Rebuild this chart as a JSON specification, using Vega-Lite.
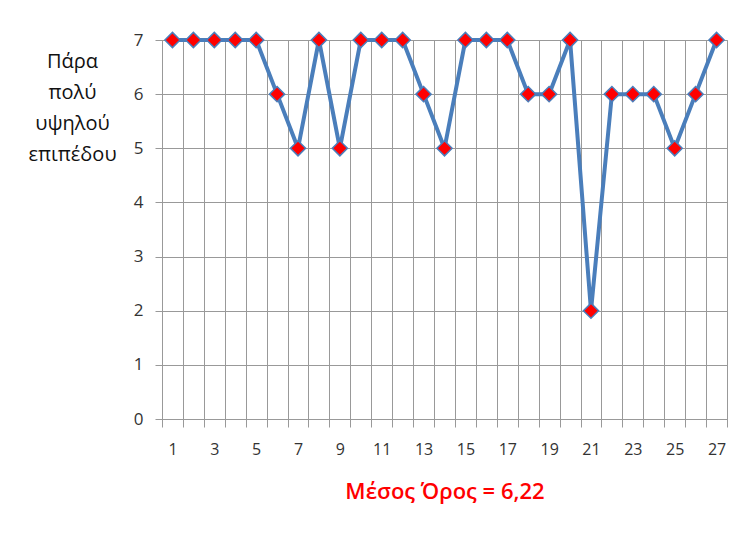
{
  "$schema": "https://vega.github.io/schema/vega-lite/v6.json",
  "autosize": "none",
  "width": 565,
  "height": 379,
  "padding": {"left": 162, "top": 40, "right": 12, "bottom": 114},
  "background": "white",
  "config": {
    "view": {"stroke": "#999999", "strokeWidth": 1},
    "font": "Open Sans"
  },
  "data": {
    "values": [
      {"n": 1, "v": 7}, {"n": 2, "v": 7}, {"n": 3, "v": 7}, {"n": 4, "v": 7},
      {"n": 5, "v": 7}, {"n": 6, "v": 6}, {"n": 7, "v": 5}, {"n": 8, "v": 7},
      {"n": 9, "v": 5}, {"n": 10, "v": 7}, {"n": 11, "v": 7}, {"n": 12, "v": 7},
      {"n": 13, "v": 6}, {"n": 14, "v": 5}, {"n": 15, "v": 7}, {"n": 16, "v": 7},
      {"n": 17, "v": 7}, {"n": 18, "v": 6}, {"n": 19, "v": 6}, {"n": 20, "v": 7},
      {"n": 21, "v": 2}, {"n": 22, "v": 6}, {"n": 23, "v": 6}, {"n": 24, "v": 6},
      {"n": 25, "v": 5}, {"n": 26, "v": 6}, {"n": 27, "v": 7}
    ]
  },
  "encoding": {
    "x": {
      "field": "n",
      "type": "quantitative",
      "scale": {"domain": [0.5, 27.5], "nice": false, "zero": false},
      "axis": {
        "values": [0.5,1,1.5,2,2.5,3,3.5,4,4.5,5,5.5,6,6.5,7,7.5,8,8.5,9,9.5,10,10.5,11,11.5,12,12.5,13,13.5,14,14.5,15,15.5,16,16.5,17,17.5,18,18.5,19,19.5,20,20.5,21,21.5,22,22.5,23,23.5,24,24.5,25,25.5,26,26.5,27,27.5],
        "labelExpr": "datum.value % 2 == 1 ? toString(datum.value) : ''",
        "labelOverlap": false,
        "labelFlush": false,
        "labelFontSize": 16,
        "labelColor": "#333333",
        "labelPadding": 14,
        "grid": true,
        "gridColor": "#999999",
        "gridWidth": 1,
        "gridOpacity": {"condition": {"test": "datum.value % 1 != 0", "value": 1}, "value": 0},
        "tickOpacity": {"condition": {"test": "datum.value % 1 != 0", "value": 1}, "value": 0},
        "ticks": true,
        "tickSize": 8,
        "tickColor": "#999999",
        "domainColor": "#999999",
        "title": "Μέσος Όρος = 6,22",
        "titleColor": "#ff0000",
        "titleFontSize": 22,
        "titleFontWeight": 600,
        "titlePadding": 24
      }
    },
    "y": {
      "field": "v",
      "type": "quantitative",
      "scale": {"domain": [0, 7], "nice": false},
      "axis": {
        "values": [0, 1, 2, 3, 4, 5, 6, 7],
        "labelFontSize": 17,
        "labelColor": "#333333",
        "labelPadding": 12,
        "tickSize": 7,
        "tickColor": "#999999",
        "domainColor": "#999999",
        "gridColor": "#999999",
        "gridWidth": 1,
        "title": ["Πάρα", "πολύ", "υψηλού", "επιπέδου"],
        "titleAngle": 0,
        "titleAlign": "center",
        "titleBaseline": "top",
        "titleX": -90,
        "titleY": 11,
        "titleFontSize": 20,
        "titleFontWeight": "normal",
        "titleColor": "#111111",
        "titleLineHeight": 31
      }
    }
  },
  "layer": [
    {"mark": {"type": "line", "color": "#4a7ebb", "strokeWidth": 4}},
    {"mark": {"type": "point", "shape": "diamond", "filled": true, "size": 230, "fill": "#ff0000", "stroke": "#4a7ebb", "strokeWidth": 1.5, "opacity": 1}}
  ]
}
